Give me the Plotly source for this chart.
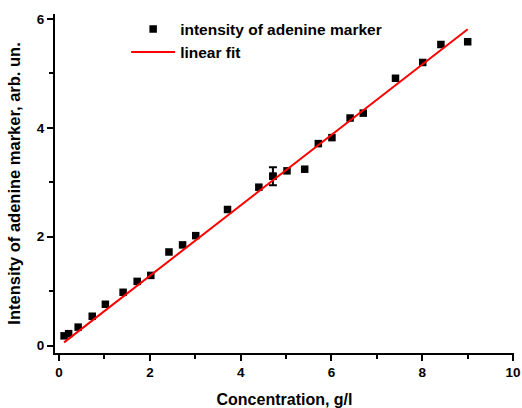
import plotly.graph_objects as go

# Data
conc = [0.11, 0.21, 0.42, 0.73, 1.02, 1.41, 1.72, 2.02, 2.42, 2.72, 3.01, 3.71,
        4.40, 4.71, 5.02, 5.41, 5.71, 6.01, 6.41, 6.70, 7.41, 8.01, 8.41, 9.00]
intensity = [0.18, 0.22, 0.34, 0.54, 0.76, 0.98, 1.18, 1.29, 1.72, 1.85, 2.02, 2.50,
             2.91, 3.11, 3.21, 3.24, 3.71, 3.82, 4.18, 4.27, 4.91, 5.20, 5.53, 5.58]
err = [0, 0, 0, 0, 0, 0, 0, 0, 0, 0, 0, 0,
       0, 0.165, 0, 0, 0, 0, 0, 0, 0, 0, 0, 0]
fit_x = [0.11, 9.00]
fit_y = [0.06, 5.81]

x_ticks = [0, 2, 4, 6, 8, 10]
y_ticks = [0, 2, 4, 6]

FONT = "Liberation Sans, Arial, sans-serif"

fig = go.Figure()
fig.add_trace(go.Scatter(
    x=conc, y=intensity, mode="markers", name="intensity of adenine marker",
    marker=dict(symbol="square", size=7.5, color="black"),
))
ex = [x for x, e in zip(conc, err) if e > 0]
ey = [y for y, e in zip(intensity, err) if e > 0]
ee = [e for e in err if e > 0]
fig.add_trace(go.Scatter(
    x=ex, y=ey, mode="markers", showlegend=False,
    marker=dict(symbol="square", size=7.5, color="black"),
    error_y=dict(type="data", array=ee, visible=True, color="black", thickness=2, width=4),
))
fig.add_trace(go.Scatter(
    x=fit_x, y=fit_y, mode="lines", name="linear fit",
    line=dict(color="#ff0000", width=2),
))

axis_common = dict(
    showgrid=False, zeroline=False, showline=True, linecolor="black", linewidth=2,
    ticks="outside", ticklen=6, tickwidth=2, tickcolor="black", automargin=False,
    tickfont=dict(family=FONT, size=13.5, color="black", weight="bold"),
    minor=dict(ticks="outside", ticklen=4, tickwidth=2, tickcolor="black", dtick=1),
)

fig.update_layout(
    width=522, height=408,
    margin=dict(l=55, r=8, t=14, b=55),
    paper_bgcolor="white", plot_bgcolor="white",
    font=dict(family=FONT, color="black"),
    showlegend=True,
    legend=dict(
        x=0.155, y=1.005, xanchor="left", yanchor="top",
        bgcolor="rgba(0,0,0,0)", itemwidth=44,
        font=dict(family=FONT, size=15.5, color="black", weight="bold"),
    ),
    xaxis=dict(
        range=[-0.09, 10.02], tickvals=x_ticks, ticktext=[str(v) for v in x_ticks],
        title=dict(text="Concentration, g/l", standoff=16,
                   font=dict(family=FONT, size=16, color="black", weight="bold")),
        **axis_common,
    ),
    yaxis=dict(
        range=[-0.135, 6.09], tickvals=y_ticks, ticktext=[str(v) for v in y_ticks],
        title=dict(text="Intensity of adenine marker, arb. un.", standoff=12,
                   font=dict(family=FONT, size=16.5, color="black", weight="bold")),
        **axis_common,
    ),
)

fig.write_html("out.html")
